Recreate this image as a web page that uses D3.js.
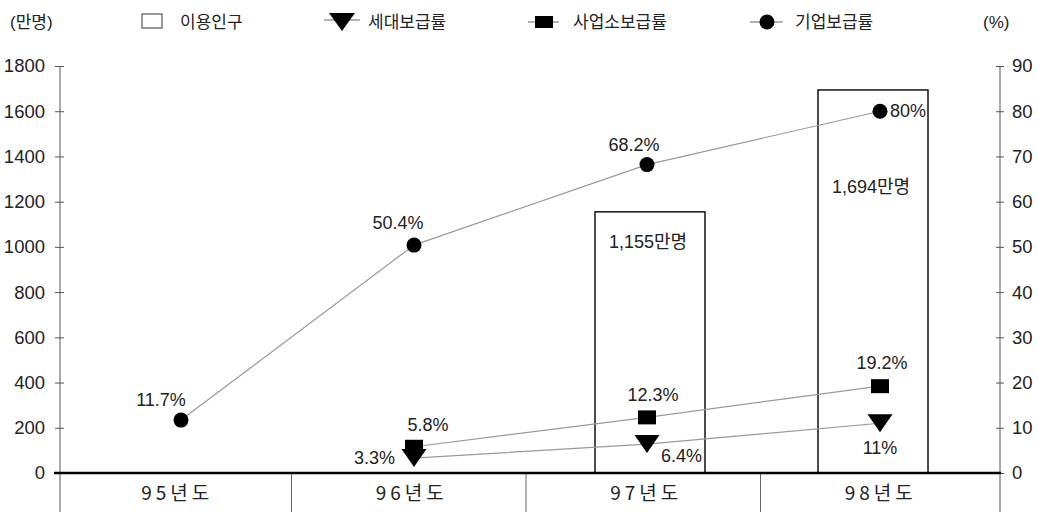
<!DOCTYPE html>
<html>
<head>
<meta charset="utf-8">
<script src="https://cdn.jsdelivr.net/npm/d3@7"></script>
<style>
  html, body { margin: 0; padding: 0; background: #fff; }
  svg { display: block; font-family: "Liberation Sans", "Noto Sans CJK KR", sans-serif; }
  text { fill: #222; }
</style>
</head>
<body>
<svg id="chart" width="1038" height="512"></svg>
<script>
// ---------- data ----------
const categories = ["95년도", "96년도", "97년도", "98년도"];
const users = [null, null, 1155, 1694];          // 이용인구 (만명)
const userLabels = [null, null, "1,155만명", "1,694만명"];
const household = [null, 3.3, 6.4, 11];          // 세대보급률 (%)
const business = [null, 5.8, 12.3, 19.2];        // 사업소보급률 (%)
const firm = [11.7, 50.4, 68.2, 80];             // 기업보급률 (%)
const householdLabels = [null, "3.3%", "6.4%", "11%"];
const businessLabels = [null, "5.8%", "12.3%", "19.2%"];
const firmLabels = ["11.7%", "50.4%", "68.2%", "80%"];
const leftTicks = [0, 200, 400, 600, 800, 1000, 1200, 1400, 1600, 1800];
const rightTicks = [0, 10, 20, 30, 40, 50, 60, 70, 80, 90];
const legendItems = ["이용인구", "세대보급률", "사업소보급률", "기업보급률"];
const leftUnit = "(만명)";
const rightUnit = "(%)";

// ---------- layout ----------
const svg = d3.select("#chart");
const W = 1038, H = 512;
const yTop = 66, yBase = 473;
const axL = 60, axR = 1000;

const xCell = d3.scaleBand().domain(categories).range([57, 995]).paddingInner(0).paddingOuter(0);
const xPt = d3.scalePoint().domain(categories).range([181, 880]);
const xBar = d3.scalePoint().domain(categories).range([204, 873]);
const yL = d3.scaleLinear().domain([0, 1800]).range([yBase, yTop]);
const yR = d3.scaleLinear().domain([0, 90]).range([yBase, yTop]);

const lineColor = "#999";
const fs = 18;

// ---------- axes ----------
const gL = svg.append("g").attr("transform", `translate(${axL},0)`)
  .call(d3.axisLeft(yL).tickValues(leftTicks).tickSize(5).tickPadding(11).tickFormat(d3.format("d")));
gL.select(".domain").remove();
gL.selectAll(".tick line").attr("x1", -5).attr("x2", 4).attr("stroke", "#555");
gL.selectAll(".tick text").attr("font-size", 18.5).attr("fill", "#222")
  .attr("font-family", "'Liberation Sans', sans-serif").attr("x", -15);
svg.append("line").attr("x1", axL).attr("x2", axL).attr("y1", yTop).attr("y2", H)
  .attr("stroke", "#555").attr("stroke-width", 1);

const gR = svg.append("g").attr("transform", `translate(${axR},0)`)
  .call(d3.axisRight(yR).tickValues(rightTicks).tickSize(5).tickPadding(11).tickFormat(d3.format("d")));
gR.select(".domain").remove();
gR.selectAll(".tick line").attr("x1", -4).attr("x2", 4).attr("stroke", "#555");
gR.selectAll(".tick text").attr("font-size", 18.5).attr("fill", "#222")
  .attr("font-family", "'Liberation Sans', sans-serif").attr("x", 12);
svg.append("line").attr("x1", axR).attr("x2", axR).attr("y1", yTop).attr("y2", H)
  .attr("stroke", "#555").attr("stroke-width", 1);

// category cell dividers
categories.slice(1).forEach(c => {
  const x = xCell(c);
  svg.append("line").attr("x1", x).attr("x2", x).attr("y1", yBase).attr("y2", H)
    .attr("stroke", "#666").attr("stroke-width", 1);
});
// category labels
svg.selectAll(".cat").data(categories).join("text")
  .attr("class", "cat")
  .attr("x", d => xCell(d) + xCell.bandwidth() / 2 + 3)
  .attr("y", 500)
  .attr("text-anchor", "middle")
  .attr("font-size", 19)
  .attr("letter-spacing", "4px")
  .attr("font-family", "'Noto Sans CJK KR', sans-serif")
  .text(d => d);

// ---------- bars ----------
const barW = 110;
const barData = categories.map((c, i) => ({ c, v: users[i], label: userLabels[i] })).filter(d => d.v != null);
svg.selectAll(".bar").data(barData).join("rect")
  .attr("class", "bar")
  .attr("x", d => xBar(d.c) - barW / 2)
  .attr("y", d => yL(d.v))
  .attr("width", barW)
  .attr("height", d => yL(0) - yL(d.v))
  .attr("fill", "#fff").attr("stroke", "#111").attr("stroke-width", 1.5);
// bar labels (offset below bar top)
const barLabelDy = [36, 103];
svg.selectAll(".barlab").data(barData).join("text")
  .attr("class", "barlab")
  .attr("x", d => xBar(d.c) - 2)
  .attr("y", (d, i) => yL(d.v) + barLabelDy[i])
  .attr("text-anchor", "middle")
  .attr("font-size", fs)
  .text(d => d.label);

// baseline
svg.append("line").attr("x1", 54).attr("x2", axR + 1).attr("y1", yBase).attr("y2", yBase)
  .attr("stroke", "#000").attr("stroke-width", 2.5);

// ---------- lines ----------
function seriesPts(vals) {
  return categories.map((c, i) => ({ c, v: vals[i], i })).filter(d => d.v != null);
}
const line = d3.line().x(d => xPt(d.c)).y(d => yR(d.v));
[firm, business, household].forEach(vals => {
  svg.append("path").datum(seriesPts(vals)).attr("d", line)
    .attr("fill", "none").attr("stroke", lineColor).attr("stroke-width", 1.2);
});

// ---------- markers ----------
const triPath = (cx, cy, w, h) => `M${cx - w / 2},${cy - h / 2}L${cx + w / 2},${cy - h / 2}L${cx},${cy + h / 2}Z`;

svg.selectAll(".tri").data(seriesPts(household)).join("path")
  .attr("class", "tri")
  .attr("d", d => triPath(xPt(d.c), yR(d.v), 25, 18))
  .attr("fill", "#000");
svg.selectAll(".sq").data(seriesPts(business)).join("rect")
  .attr("class", "sq")
  .attr("x", d => xPt(d.c) - 9).attr("y", d => yR(d.v) - 7)
  .attr("width", 18).attr("height", 14).attr("fill", "#000");
svg.selectAll(".dot").data(seriesPts(firm)).join("circle")
  .attr("class", "dot")
  .attr("cx", d => xPt(d.c)).attr("cy", d => yR(d.v)).attr("r", 7.5).attr("fill", "#000");

// ---------- data labels ----------
// [anchor, dx, dy] per point
const firmLayout = [["middle", -20, -14], ["middle", -16, -16], ["middle", -13, -14], ["start", 10, 6]];
const businessLayout = [null, ["middle", 14, -16], ["middle", 6, -16], ["middle", 2, -17]];
const householdLayout = [null, ["end", -19, 6], ["start", 14, 18], ["middle", 0, 31]];

function drawLabels(vals, labels, layout) {
  seriesPts(vals).forEach(d => {
    const [anchor, dx, dy] = layout[d.i];
    svg.append("text")
      .attr("x", xPt(d.c) + dx).attr("y", yR(d.v) + dy)
      .attr("text-anchor", anchor).attr("font-size", fs)
      .text(labels[d.i]);
  });
}
drawLabels(firm, firmLabels, firmLayout);
drawLabels(business, businessLabels, businessLayout);
drawLabels(household, householdLabels, householdLayout);

// ---------- legend ----------
const lg = svg.append("g").attr("font-size", 17);
lg.append("text").attr("x", 10).attr("y", 28).text(leftUnit);
lg.append("text").attr("x", 983).attr("y", 28).text(rightUnit);

// 이용인구
lg.append("rect").attr("x", 142).attr("y", 14).attr("width", 20).attr("height", 14)
  .attr("fill", "#fff").attr("stroke", "#333").attr("stroke-width", 1);
lg.append("text").attr("x", 180).attr("y", 28).text(legendItems[0]);
// 세대보급률
lg.append("line").attr("x1", 324).attr("x2", 360).attr("y1", 20).attr("y2", 20).attr("stroke", lineColor).attr("stroke-width", 1.5);
lg.append("path").attr("d", triPath(342, 22, 26, 18)).attr("fill", "#000");
lg.append("text").attr("x", 368).attr("y", 28).text(legendItems[1]);
// 사업소보급률
lg.append("line").attr("x1", 528).attr("x2", 559).attr("y1", 22).attr("y2", 22).attr("stroke", lineColor).attr("stroke-width", 1.5);
lg.append("rect").attr("x", 535).attr("y", 16).attr("width", 18).attr("height", 12).attr("fill", "#000");
lg.append("text").attr("x", 573).attr("y", 28).text(legendItems[2]);
// 기업보급률
lg.append("line").attr("x1", 750).attr("x2", 783).attr("y1", 22).attr("y2", 22).attr("stroke", lineColor).attr("stroke-width", 1.5);
lg.append("circle").attr("cx", 767).attr("cy", 22).attr("r", 7.5).attr("fill", "#000");
lg.append("text").attr("x", 795).attr("y", 28).text(legendItems[3]);
</script>
</body>
</html>
